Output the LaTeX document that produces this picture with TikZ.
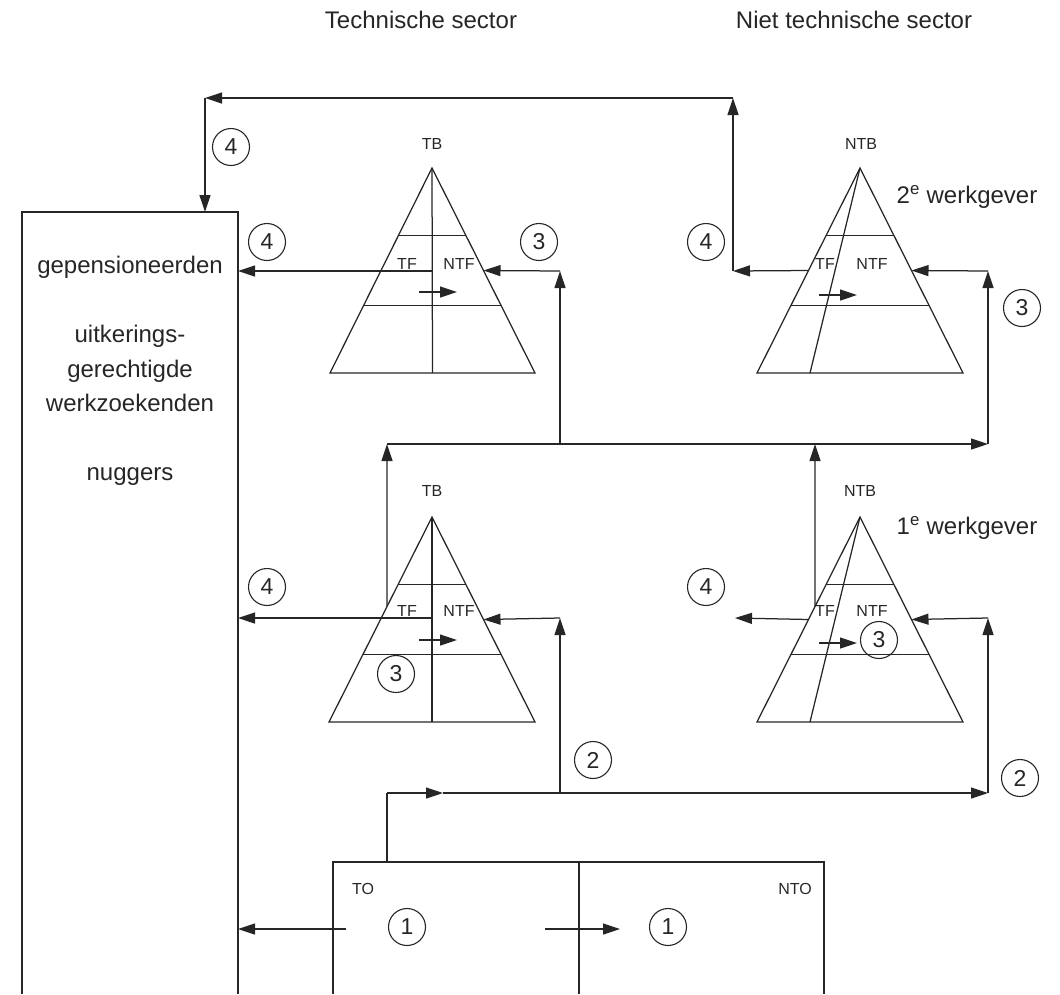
\documentclass[tikz,border=0pt]{standalone}
\usepackage{fontspec}
\setmainfont{Liberation Sans}
\usetikzlibrary{arrows.meta,calc}
\begin{document}
\begin{tikzpicture}[x=1pt,y=-1pt,
  ln/.style={line width=1.25pt, draw=black!85},
  arr/.style={ln,-{Triangle[length=17pt,width=11pt]}},
  small/.style={font=\fontsize{16}{19}\selectfont, inner sep=0pt, text=black!85},
  big/.style={font=\fontsize{24}{28}\selectfont, inner sep=0pt, text=black!85},
  num/.style={circle, draw=black!85, line width=1.1pt, minimum size=37pt, inner sep=0pt,
              font=\fontsize{23}{27}\selectfont, text=black!85},
]
\useasboundingbox (0,0) rectangle (1060,994);

% headers
\node[big] (h1) at (421,20) {Technische sector};
\node[big] (h2) at (854,20) {Niet technische sector};

% left box (open at bottom)
\coordinate (bxBL) at (22,994);
\coordinate (bxTL) at (22,212);
\coordinate (bxTR) at (238,212);
\coordinate (bxBR) at (238,994);
\draw[ln] (bxBL) -- (bxTL) -- (bxTR) -- (bxBR);
\node[big, anchor=base] (pens) at (130,273) {gepensioneerden};
\node[big, anchor=base] (uitk) at (130,342) {uitkerings-};
\node[big, anchor=base] (gere) at (130,377) {gerechtigde};
\node[big, anchor=base] (werk) at (130,411) {werkzoekenden};
\node[big, anchor=base] (nugg) at (130,480) {nuggers};

% bottom box TO / NTO (open at bottom)
\coordinate (obBL) at (333,994);
\coordinate (obTL) at (333,862);
\coordinate (obTR) at (824,862);
\coordinate (obBR) at (824,994);
\coordinate (obMT) at (579,862);
\coordinate (obMB) at (579,994);
\draw[ln] (obBL) -- (obTL) -- (obTR) -- (obBR);
\draw[ln] (obMT) -- (obMB);
\node[small] (to) at (363,889) {TO};
\node[small] (nto) at (795,889) {NTO};
\node[num] (c1a) at (407,927) {1};
\node[num] (c1b) at (668,927) {1};
\coordinate (o1s) at (346,929);
\coordinate (o1t) at (238,929);
\draw[arr] (o1s) -- (o1t);
\coordinate (o2s) at (545,929);
\coordinate (o2t) at (620,929);
\draw[arr] (o2s) -- (o2t);

% ---------- pyramids ----------
\coordinate (tlA) at (432,168);
\coordinate (tlL) at (330,373);
\coordinate (tlR) at (535,373);
\coordinate (trA) at (860,168);
\coordinate (trL) at (757,373);
\coordinate (trR) at (963,373);
\coordinate (trS) at (810,373);
\coordinate (blA) at (432,517);
\coordinate (blL) at (329,722);
\coordinate (blR) at (535,722);
\coordinate (brA) at (860,517);
\coordinate (brL) at (757,722);
\coordinate (brR) at (963,722);
\coordinate (brS) at (810,722);

\foreach \p in {tl,tr,bl,br}{
  \draw[ln] (\p A) -- (\p L) -- (\p R) -- cycle;
  \draw[ln] ($(\p A)!0.33!(\p L)$) -- ($(\p A)!0.33!(\p R)$);
  \draw[ln] ($(\p A)!0.67!(\p L)$) -- ($(\p A)!0.67!(\p R)$);
}
\draw[ln] (tlA) -- ($(tlL)!0.5!(tlR)$);
\draw[ln] (blA) -- ($(blL)!0.5!(blR)$);
\draw[ln] (trA) -- (trS);
\draw[ln] (brA) -- (brS);

% pyramid labels
\node[small] (tbT) at (432,144) {TB};
\node[small] (ntbT) at (861,144) {NTB};
\node[small] (tbB) at (432,491) {TB};
\node[small] (ntbB) at (860,491) {NTB};
\node[small] (tfTL) at (407,264) {TF};
\node[small] (ntfTL) at (459,264) {NTF};
\node[small] (tfTR) at (825,264) {TF};
\node[small] (ntfTR) at (872,264) {NTF};
\node[small] (tfBL) at (407,611) {TF};
\node[small] (ntfBL) at (459,611) {NTF};
\node[small] (tfBR) at (825,611) {TF};
\node[small] (ntfBR) at (872,611) {NTF};

\node[big] (w2) at (967,197) {2\textsuperscript{e} werkgever};
\node[big] (w1) at (967,528) {1\textsuperscript{e} werkgever};

% small internal arrows
\coordinate (ia1s) at (419,292); \coordinate (ia1t) at (457,292);
\coordinate (ia2s) at (819,295); \coordinate (ia2t) at (857,295);
\coordinate (ia3s) at (419,640); \coordinate (ia3t) at (457,640);
\coordinate (ia4s) at (819,643); \coordinate (ia4t) at (857,643);
\draw[arr] (ia1s) -- (ia1t);
\draw[arr] (ia2s) -- (ia2t);
\draw[arr] (ia3s) -- (ia3t);
\draw[arr] (ia4s) -- (ia4t);

% ---------- flows ----------
\coordinate (tlM) at (432,271);
\coordinate (bxE1) at (238,271);
\draw[arr] (tlM) -- (bxE1);
\coordinate (tlRi) at ($(tlA)!0.5!(tlR)$);
\coordinate (j1) at (560,271);
\coordinate (j1b) at (560,444);
\draw[arr] (j1b) -- (j1);
\draw[arr] (j1) -- (tlRi);

\coordinate (trLi) at ($(trA)!0.5!(trL)$);
\coordinate (k1) at (733,271);
\coordinate (k2) at (733,98);
\coordinate (k3) at (205,98);
\coordinate (bxE0) at (205,212);
\draw[arr] (trLi) -- (k1);
\draw[arr] (k1) -- (k2);
\draw[arr] (k2) -- (k3);
\draw[arr] (k3) -- (bxE0);
\coordinate (trRi) at ($(trA)!0.5!(trR)$);
\coordinate (m1) at (988,271);
\coordinate (m2) at (988,444);
\draw[arr] (m1) -- (trRi);

\coordinate (mL) at (387,444);
\coordinate (blUp) at ($(blA)!0.437!(blL)$);
\coordinate (brUp) at ($(brA)!0.437!(brL)$);
\coordinate (mB) at (815,444);
\draw[arr] (blUp) -- (mL);
\draw[arr] (brUp) -- (mB);
\draw[arr] (mL) -- (m2);
\draw[arr] (m2) -- (m1);

\coordinate (blM) at (432,618);
\coordinate (bxE2) at (238,618);
\draw[arr] (blM) -- (bxE2);
\coordinate (blRi) at ($(blA)!0.5!(blR)$);
\coordinate (n1) at (560,618);
\coordinate (n2) at (560,793);
\draw[arr] (n2) -- (n1);
\draw[arr] (n1) -- (blRi);

\coordinate (brLi) at ($(brA)!0.5!(brL)$);
\coordinate (p1) at (735,618);
\draw[arr] (brLi) -- (p1);
\coordinate (brRi) at ($(brA)!0.5!(brR)$);
\coordinate (q1) at (988,618);
\coordinate (q2) at (988,793);
\draw[arr] (q2) -- (q1);
\draw[arr] (q1) -- (brRi);

\coordinate (s0) at (387,862);
\coordinate (s1) at (387,793);
\coordinate (s2) at (443,793);
\draw[ln] (s0) -- (s1);
\draw[arr] (s1) -- (s2);
\draw[arr] (s2) -- (q2);

% numbered circles
\node[num] (c4a) at (231,147) {4};
\node[num] (c4b) at (267,242) {4};
\node[num] (c3a) at (539,242) {3};
\node[num] (c4c) at (706,242) {4};
\node[num] (c3b) at (1022,308) {3};
\node[num] (c4d) at (267,587) {4};
\node[num] (c3c) at (396,674) {3};
\node[num] (c4e) at (706,587) {4};
\node[num] (c3d) at (879,640) {3};
\node[num] (c2a) at (593,760) {2};
\node[num] (c2b) at (1020,778) {2};
\end{tikzpicture}
\end{document}
